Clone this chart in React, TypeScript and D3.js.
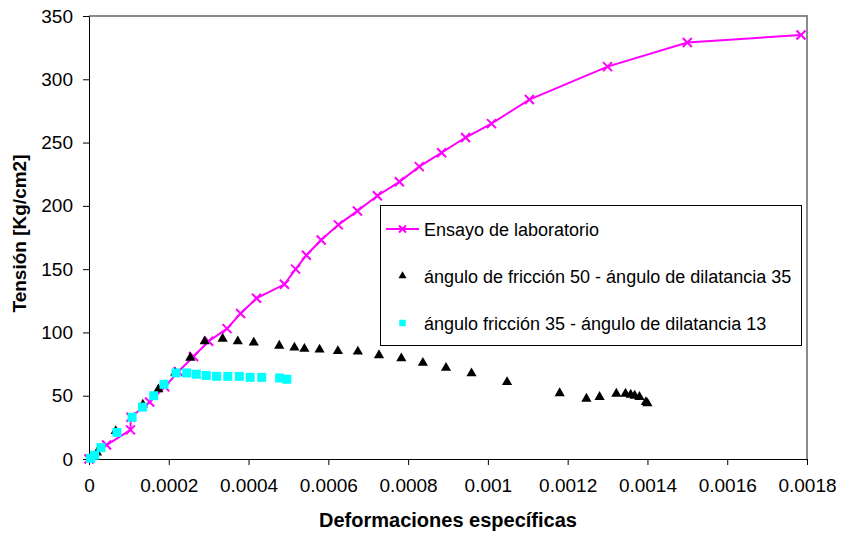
import React, { useEffect, useRef } from "react";
import * as d3 from "d3";

// Ensayo de laboratorio
const labStrain = [0, 0.000044, 0.000104, 0.000105, 0.000152, 0.00019, 0.000224, 0.000262, 0.0003, 0.000346, 0.00038, 0.00042, 0.00049, 0.000518, 0.000545, 0.000582, 0.000625, 0.000673, 0.000723, 0.000778, 0.000828, 0.000884, 0.000944, 0.001009, 0.001104, 0.0013, 0.0015, 0.001785];
const labStress = [0, 11, 23, 33, 45, 57, 69, 81, 93, 103, 115, 127, 138, 150, 161, 173, 185, 196, 208, 219, 231, 242, 254, 265, 284, 310, 329, 335];

// ángulo de fricción 50 - ángulo de dilatancia 35
const fric50Strain = [0.00002, 0.000067, 0.000135, 0.000174, 0.000216, 0.000254, 0.00029, 0.000335, 0.000373, 0.000413, 0.000477, 0.000515, 0.00054, 0.000578, 0.000624, 0.000674, 0.000727, 0.000783, 0.000837, 0.000895, 0.000959, 0.001048, 0.00118, 0.001247, 0.00128, 0.001322, 0.001345, 0.001358, 0.001368, 0.00138, 0.001396, 0.0014];
const fric50Stress = [5, 22, 43, 55, 68, 80, 93, 95, 93, 92, 89.5, 88, 87, 86.5, 85.3, 84.8, 82, 79.5, 76, 72, 67.7, 60.8, 52, 47.6, 49, 51.6, 51.6, 50.8, 50, 49, 45, 44];

// ángulo fricción 35 - ángulo de dilatancia 13
const fric35Strain = [0.000004, 0.000014, 0.00003, 0.00007, 0.000108, 0.000134, 0.000162, 0.000188, 0.000218, 0.000245, 0.000269, 0.000294, 0.00032, 0.000348, 0.000377, 0.000404, 0.000433, 0.000478, 0.000496];
const fric35Stress = [0.5, 3, 9, 21, 33, 41, 50, 59, 68, 68, 67, 66, 65.3, 65.3, 65.3, 64.5, 64.5, 64, 63];

const xTicks = [0, 0.0002, 0.0004, 0.0006, 0.0008, 0.001, 0.0012, 0.0014, 0.0016, 0.0018];
const xTickLabels = ["0", "0.0002", "0.0004", "0.0006", "0.0008", "0.001", "0.0012", "0.0014", "0.0016", "0.0018"];
const yTicks = [0, 50, 100, 150, 200, 250, 300, 350];

const legendLabels = [
    "Ensayo de laboratorio",
    "ángulo de fricción 50 - ángulo de dilatancia 35",
    "ángulo fricción 35 - ángulo de dilatancia 13",
];

const FONT = "'Liberation Sans', Arial, sans-serif";

export default function App() {
    const ref = useRef<SVGSVGElement>(null);

    useEffect(() => {
        const svg = d3.select(ref.current);
        svg.selectAll("*").remove();

        const margin = { top: 16, right: 34, bottom: 74, left: 89 };
        const width = 841, height = 533;

        const x = d3.scaleLinear()
            .domain([0, 0.0018])
            .range([margin.left, width - margin.right]);
        const y = d3.scaleLinear()
            .domain([0, 350])
            .range([height - margin.bottom, margin.top]);

        // grey frame top + right
        svg.append("path")
            .attr("d", `M${x(0)},${y(350)}H${x(0.0018)}V${y(0)}`)
            .attr("fill", "none")
            .attr("stroke", "#8a8a8a")
            .attr("stroke-width", 2);

        // y axis
        const yAxis = d3.axisLeft(y)
            .tickValues(yTicks)
            .tickSize(6)
            .tickSizeOuter(0)
            .tickPadding(10)
            .tickFormat(d => String(d));
        const gy = svg.append("g")
            .attr("transform", `translate(${x(0)},0)`)
            .call(yAxis);
        gy.selectAll("text")
            .style("font-family", FONT)
            .style("font-size", "19px")
            .attr("fill", "#000");
        gy.selectAll("line, path").attr("stroke", "#000");

        // x axis
        const xAxis = d3.axisBottom(x)
            .tickValues(xTicks)
            .tickSize(6)
            .tickSizeOuter(0)
            .tickPadding(14)
            .tickFormat((d, i) => xTickLabels[i]);
        const gx = svg.append("g")
            .attr("transform", `translate(0,${y(0)})`)
            .call(xAxis);
        gx.selectAll("text")
            .style("font-family", FONT)
            .style("font-size", "19px")
            .attr("fill", "#000");
        gx.selectAll("line, path").attr("stroke", "#000");

        // titles
        svg.append("text")
            .attr("x", (x(0) + x(0.0018)) / 2)
            .attr("y", 527)
            .attr("text-anchor", "middle")
            .style("font-family", FONT)
            .style("font-size", "20px")
            .style("font-weight", "bold")
            .text("Deformaciones específicas");
        svg.append("text")
            .attr("transform", `translate(26,${(y(0) + y(350)) / 2 - 4}) rotate(-90)`)
            .attr("text-anchor", "middle")
            .style("font-family", FONT)
            .style("font-size", "19px")
            .style("font-weight", "bold")
            .text("Tensión [Kg/cm2]");

        // lab curve
        const line = d3.line<number>()
            .x(d => x(labStrain[d]))
            .y(d => y(labStress[d]));
        svg.append("path")
            .attr("d", line(d3.range(labStrain.length)))
            .attr("fill", "none")
            .attr("stroke", "#ff00ff")
            .attr("stroke-width", 2);
        const cross = (cx: number, cy: number, r: number) =>
            `M${cx - r},${cy - r}L${cx + r},${cy + r}M${cx - r},${cy + r}L${cx + r},${cy - r}`;
        svg.append("g")
            .selectAll("path")
            .data(d3.range(labStrain.length))
            .enter()
            .append("path")
            .attr("d", i => cross(x(labStrain[i]), y(labStress[i]), 4.5))
            .attr("stroke", "#ff00ff")
            .attr("stroke-width", 2)
            .attr("fill", "none");

        // triangles
        const tri = d3.symbol().type(d3.symbolTriangle).size(45);
        svg.append("g")
            .selectAll("path")
            .data(d3.range(fric50Strain.length))
            .enter()
            .append("path")
            .attr("d", tri)
            .attr("transform", i => `translate(${x(fric50Strain[i])},${y(fric50Stress[i])})`)
            .attr("fill", "#000");

        // squares
        const sq = d3.symbol().type(d3.symbolSquare).size(81);
        svg.append("g")
            .selectAll("path")
            .data(d3.range(fric35Strain.length))
            .enter()
            .append("path")
            .attr("d", sq)
            .attr("transform", i => `translate(${x(fric35Strain[i])},${y(fric35Stress[i])})`)
            .attr("fill", "#00ffff");

        // legend
        const lg = svg.append("g");
        lg.append("rect")
            .attr("x", 380.5)
            .attr("y", 205.5)
            .attr("width", 421)
            .attr("height", 140)
            .attr("fill", "#fff")
            .attr("stroke", "#000")
            .attr("stroke-width", 1);
        const rowY = [229, 276, 323];
        lg.append("line")
            .attr("x1", 386).attr("x2", 419)
            .attr("y1", rowY[0]).attr("y2", rowY[0])
            .attr("stroke", "#ff00ff").attr("stroke-width", 2);
        lg.append("path")
            .attr("d", cross(402.5, rowY[0], 3.5))
            .attr("stroke", "#ff00ff").attr("stroke-width", 2);
        lg.append("path")
            .attr("d", d3.symbol().type(d3.symbolTriangle).size(28)())
            .attr("transform", `translate(402.5,${rowY[1]})`)
            .attr("fill", "#000");
        lg.append("path")
            .attr("d", d3.symbol().type(d3.symbolSquare).size(42)())
            .attr("transform", `translate(402.5,${rowY[2]})`)
            .attr("fill", "#00ffff");
        lg.selectAll("text.lab")
            .data(legendLabels)
            .enter()
            .append("text")
            .attr("class", "lab")
            .attr("x", 424)
            .attr("y", (d, i) => rowY[i] + 6.5)
            .style("font-family", FONT)
            .style("font-size", "18px")
            .attr("fill", "#000")
            .text(d => d);
    }, []);

    return (
        <svg
            ref={ref}
            width={841}
            height={533}
            style={{ position: "absolute", left: 0, top: 0, background: "#fff" }}
        />
    );
}
